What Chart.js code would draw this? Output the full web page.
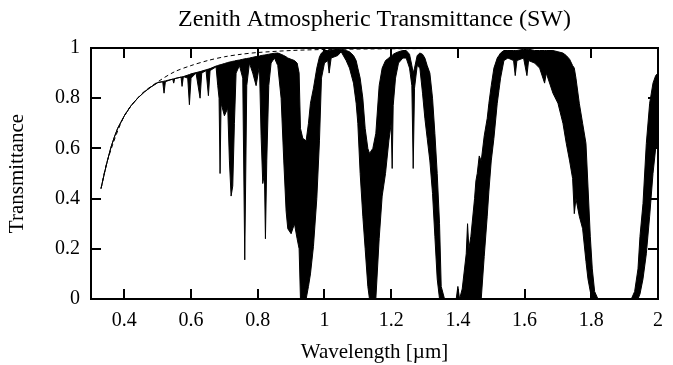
<!DOCTYPE html>
<html>
<head>
<meta charset="utf-8">
<script src="https://cdn.jsdelivr.net/npm/chart.js@4"></script>
<style>
  html, body { margin: 0; padding: 0; background: #fff; }
  #wrap { width: 673px; height: 365px; position: relative; }
</style>
</head>
<body>
<div id="wrap"><canvas id="c" width="673" height="365"></canvas></div>
<script>
// Wavelength grid (µm)
const wavelength = [
  0.33,0.34,0.35,0.36,0.37,0.38,0.39,0.40,0.42,0.44,0.46,0.48,0.50,
  0.515,0.519,0.523,0.545,0.548,0.551,0.57,0.573,0.577,0.59,0.595,0.60,
  0.615,0.627,0.632,0.645,0.652,0.657,0.675,0.68,0.684,0.687,0.69,0.70,
  0.71,0.715,0.72,0.725,0.73,0.735,0.745,0.755,0.761,0.767,0.775,0.785,
  0.795,0.805,0.81,0.815,0.82,0.823,0.827,0.833,0.84,0.85,0.86,0.87,
  0.878,0.885,0.89,0.90,0.91,0.918,0.924,0.928,0.935,0.945,0.952,0.958,
  0.967,0.977,0.985,0.991,1.00,1.01,1.014,1.02,1.04,1.05,1.065,1.075,
  1.087,1.095,1.10,1.107,1.115,1.122,1.13,1.135,1.145,1.154,1.164,1.173,
  1.183,1.193,1.20,1.203,1.206,1.213,1.222,1.235,1.245,1.255,1.262,1.266,
  1.27,1.278,1.286,1.294,1.301,1.308,1.316,1.324,1.331,1.338,1.345,1.35,
  1.36,1.395,1.40,1.405,1.413,1.425,1.429,1.433,1.439,1.45,1.454,1.458,
  1.464,1.47,1.479,1.488,1.493,1.50,1.508,1.518,1.523,1.528,1.538,1.55,
  1.567,1.572,1.577,1.597,1.607,1.612,1.63,1.645,1.66,1.665,1.685,1.70,
  1.715,1.725,1.735,1.744,1.749,1.754,1.764,1.774,1.784,1.79,1.797,1.803,
  1.81,1.82,1.92,1.93,1.94,1.946,1.955,1.965,1.975,1.985,1.993,2.00
];
// Upper edge of the transmittance trace
const transUpper = [
  0.44,0.50,0.555,0.605,0.645,0.68,0.705,0.73,0.77,0.80,0.825,0.845,0.862,
  0.866,0.868,0.869,0.876,0.877,0.878,0.884,0.885,0.886,0.892,0.894,0.897,
  0.902,0.906,0.908,0.913,0.916,0.918,0.928,0.93,0.932,0.933,0.934,0.938,
  0.942,0.944,0.945,0.947,0.948,0.95,0.952,0.955,0.957,0.958,0.96,0.963,
  0.966,0.968,0.97,0.971,0.972,0.973,0.974,0.975,0.977,0.979,0.98,0.975,
  0.97,0.965,0.96,0.955,0.95,0.94,0.90,0.68,0.64,0.63,0.70,0.78,
  0.84,0.92,0.965,0.98,0.99,0.99,0.99,0.992,0.995,0.995,0.99,0.985,
  0.97,0.95,0.92,0.88,0.80,0.68,0.60,0.58,0.60,0.66,0.85,0.92,
  0.95,0.96,0.97,0.97,0.975,0.98,0.985,0.99,0.99,0.975,0.93,0.90,
  0.92,0.97,0.98,0.975,0.96,0.93,0.90,0.80,0.66,0.50,0.30,0.05,
  0.0,0.0,0.05,0.0,0.04,0.18,0.30,0.20,0.25,0.40,0.47,0.50,
  0.57,0.55,0.65,0.72,0.78,0.85,0.92,0.96,0.97,0.98,0.99,0.99,
  0.99,0.99,0.99,0.995,0.995,0.995,0.99,0.99,0.99,0.99,0.99,0.985,
  0.98,0.97,0.955,0.93,0.92,0.88,0.78,0.70,0.62,0.45,0.25,0.12,
  0.03,0.0,0.0,0.03,0.12,0.25,0.38,0.62,0.78,0.86,0.89,0.90
];
// Lower edge of the transmittance trace (absorption lines)
const transLower = [
  0.44,0.50,0.555,0.605,0.645,0.68,0.705,0.73,0.77,0.80,0.825,0.845,0.862,
  0.866,0.82,0.866,0.876,0.86,0.878,0.884,0.847,0.886,0.88,0.774,0.88,
  0.90,0.80,0.90,0.91,0.81,0.91,0.925,0.85,0.80,0.50,0.78,0.73,
  0.76,0.55,0.41,0.45,0.70,0.90,0.93,0.88,0.156,0.85,0.94,0.90,
  0.85,0.93,0.65,0.46,0.50,0.24,0.55,0.85,0.94,0.96,0.93,0.80,
  0.55,0.35,0.28,0.26,0.30,0.24,0.20,0.0,0.0,0.0,0.05,0.10,
  0.21,0.40,0.63,0.88,0.94,0.95,0.90,0.96,0.97,0.985,0.95,0.92,
  0.86,0.78,0.70,0.50,0.33,0.20,0.05,0.0,0.0,0.0,0.24,0.41,
  0.50,0.63,0.70,0.52,0.77,0.88,0.94,0.96,0.96,0.92,0.85,0.52,
  0.84,0.93,0.92,0.82,0.72,0.64,0.55,0.42,0.25,0.08,0.0,0.0,
  0.0,0.0,0.0,0.0,0.0,0.0,0.0,0.0,0.0,0.0,0.0,0.0,
  0.0,0.0,0.17,0.33,0.43,0.55,0.64,0.78,0.83,0.88,0.95,0.96,
  0.95,0.89,0.95,0.96,0.89,0.95,0.94,0.92,0.86,0.90,0.82,0.78,
  0.70,0.62,0.55,0.48,0.34,0.40,0.33,0.28,0.15,0.08,0.03,0.0,
  0.0,0.0,0.0,0.0,0.0,0.02,0.08,0.18,0.33,0.50,0.60,0.62
];
// Clear-sky (dashed) reference curve
const clearWavelength = [0.33,0.35,0.40,0.45,0.50,0.55,0.60,0.65,0.70,0.75,0.80,0.90,1.00,1.20,1.50,2.00];
const clearTrans      = [0.44,0.555,0.73,0.815,0.865,0.905,0.93,0.95,0.965,0.975,0.982,0.99,0.994,0.997,0.999,1.0];

const xTicks = [0.4,0.6,0.8,1,1.2,1.4,1.6,1.8,2];
const yTicks = [0,0.2,0.4,0.6,0.8,1];

const toXY = (xs, ys) => xs.map((x, i) => ({x: x, y: ys[i]}));
const FONT = '"Liberation Serif","DejaVu Serif","Times New Roman",serif';

const frame = {
  id: 'frame',
  afterDatasetsDraw(chart) {
    const {ctx, chartArea: a, scales} = chart;
    ctx.save();
    ctx.strokeStyle = '#000';
    ctx.lineWidth = 2;
    ctx.strokeRect(a.left, a.top, a.right - a.left, a.bottom - a.top);
    const L = 10;
    ctx.beginPath();
    xTicks.forEach(v => {
      const px = Math.round(scales.x.getPixelForValue(v));
      ctx.moveTo(px, a.bottom); ctx.lineTo(px, a.bottom - L);
      ctx.moveTo(px, a.top); ctx.lineTo(px, a.top + L);
    });
    yTicks.forEach(v => {
      const py = Math.round(scales.y.getPixelForValue(v));
      ctx.moveTo(a.left, py); ctx.lineTo(a.left + L, py);
      ctx.moveTo(a.right, py); ctx.lineTo(a.right - L, py);
    });
    ctx.stroke();
    ctx.restore();
  }
};

new Chart(document.getElementById('c'), {
  type: 'line',
  data: {
    datasets: [
      { label: 'lower', data: toXY(wavelength, transLower), borderColor: '#000', borderWidth: 1, pointRadius: 0, fill: false, tension: 0 },
      { label: 'upper', data: toXY(wavelength, transUpper), borderColor: '#000', borderWidth: 1, pointRadius: 0, fill: '-1', backgroundColor: '#000', tension: 0 },
      { label: 'clear', data: toXY(clearWavelength, clearTrans), borderColor: '#000', borderWidth: 1, borderDash: [4, 3], pointRadius: 0, fill: false, tension: 0.3 }
    ]
  },
  options: {
    responsive: false,
    animation: false,
    devicePixelRatio: 1,
    layout: { padding: { left: 0, right: 7, top: 0, bottom: 0 } },
    plugins: {
      legend: { display: false },
      tooltip: { enabled: false },
      title: {
        display: true,
        fullSize: false,
        text: 'Zenith Atmospheric Transmittance (SW)',
        color: '#000',
        font: { family: FONT, size: 24, weight: 'normal', lineHeight: 1.2 },
        padding: { top: 5, bottom: 14.2 }
      }
    },
    scales: {
      x: {
        type: 'linear', min: 0.3, max: 2.0,
        afterBuildTicks: s => { s.ticks = xTicks.map(v => ({value: v})); },
        afterFit: s => { s.height = 66; },
        grid: { display: false, drawTicks: false },
        border: { display: false },
        ticks: { color: '#000', padding: 10, font: { family: FONT, size: 20 }, maxRotation: 0,
                 callback: v => String(v) },
        title: { display: true, text: 'Wavelength [µm]', color: '#000', padding: { top: 0, bottom: 0 },
                 font: { family: FONT, size: 21 } }
      },
      y: {
        type: 'linear', min: 0, max: 1,
        afterBuildTicks: s => { s.ticks = yTicks.map(v => ({value: v})); },
        afterFit: s => { s.width = 91; },
        grid: { display: false, drawTicks: false },
        border: { display: false },
        ticks: { color: '#000', padding: 11, font: { family: FONT, size: 20 }, callback: v => String(v) },
        title: { display: true, text: 'Transmittance', color: '#000', padding: { top: 5, bottom: 0 },
                 font: { family: FONT, size: 21 } }
      }
    }
  },
  plugins: [frame]
});
</script>
</body>
</html>
